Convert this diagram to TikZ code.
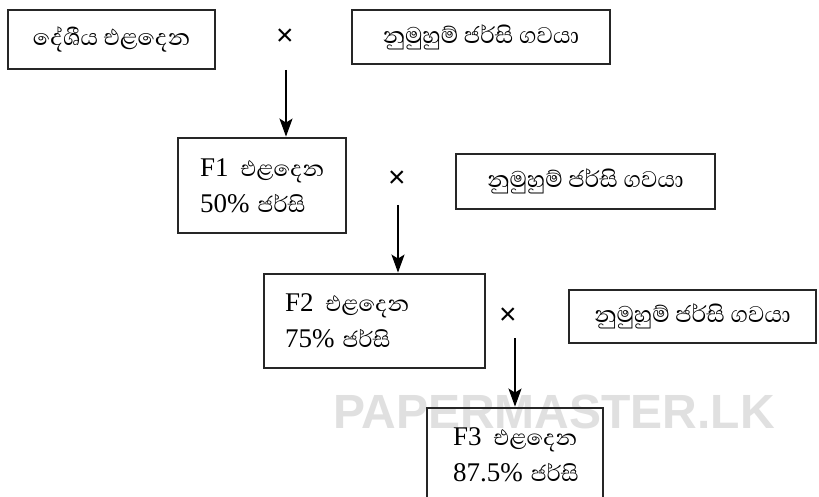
\documentclass[tikz,border=0pt]{standalone}
\usepackage{fontspec}
\setmainfont{Liberation Serif}
\newfontfamily\sinhfont[Script=Sinhala]{Abhaya Libre}
\newfontfamily\wmfont{Liberation Sans}
\usetikzlibrary{arrows.meta}
\newcommand{\sinhtext}[1]{{\sinhfont\fontsize{28}{36}\selectfont #1}}
\begin{document}
\begin{tikzpicture}[x=1pt,y=-1pt,
  box/.style={draw=black!85, line width=2.8pt, inner sep=0pt},
  sbox/.style={box, font=\sinhfont\fontsize{29}{34}\selectfont},
  fbox/.style={box, align=left, font=\fontsize{27}{36}\selectfont},
  timesign/.style={font=\wmfont\fontsize{30}{30}\selectfont, inner sep=0pt},
  arr/.style={line width=2pt, -{Stealth[length=18pt,width=13pt,inset=4pt]}},
  wmark/.style={font=\wmfont\bfseries\fontsize{48}{48}\selectfont, text=black!12, inner sep=0pt}
]
\clip (0,0) rectangle (819,497);
\fill[white] (0,0) rectangle (819,497);
% watermark
\node[wmark, anchor=base] (wm) at (554,428) {PAPERMASTER.LK};
% top row
\node[sbox, minimum width=207pt, minimum height=59pt] (b1) at (111.5,39.5) {දේශීය එළදෙන};
\node[timesign] (x1) at (285,37) {×};
\node[sbox, minimum width=258pt, minimum height=54pt] (b2) at (481,37) {නුමුහුම් ජර්සි ගවයා};
% F1 row
\node[fbox, minimum width=168pt, minimum height=95pt, text width=124pt, inner xsep=22pt] (f1) at (262,185.5) {\mbox{F1\hspace{0.45em}\sinhtext{එළදෙන}}\\\mbox{50\%\hspace{0.3em}\sinhtext{ජර්සි}}};
\node[timesign] (x2) at (397,179) {×};
\node[sbox, minimum width=259pt, minimum height=55pt] (b3) at (585.5,181.5) {නුමුහුම් ජර්සි ගවයා};
% F2 row
\node[fbox, minimum width=221pt, minimum height=94pt, text width=179pt, inner xsep=21pt] (f2) at (374.5,321) {\mbox{F2\hspace{0.45em}\sinhtext{එළදෙන}}\\\mbox{75\%\hspace{0.3em}\sinhtext{ජර්සි}}};
\node[timesign] (x3) at (508,316) {×};
\node[sbox, minimum width=247pt, minimum height=53pt] (b4) at (692.5,316.5) {නුමුහුම් ජර්සි ගවයා};
% F3 row
\node[fbox, minimum width=176pt, minimum height=94pt, text width=124pt, inner xsep=26pt] (f3) at (515,455) {\mbox{F3\hspace{0.45em}\sinhtext{එළදෙන}}\\\mbox{87.5\%\hspace{0.3em}\sinhtext{ජර්සි}}};
% arrows
\coordinate (s1) at (286,70);
\coordinate (s2) at (398,205);
\coordinate (s3) at (515,338);
\draw[arr] (s1) -- (s1 |- f1.north);
\draw[arr] (s2) -- (s2 |- f2.north);
\draw[arr] (s3) -- (s3 |- f3.north);
\end{tikzpicture}
\end{document}
